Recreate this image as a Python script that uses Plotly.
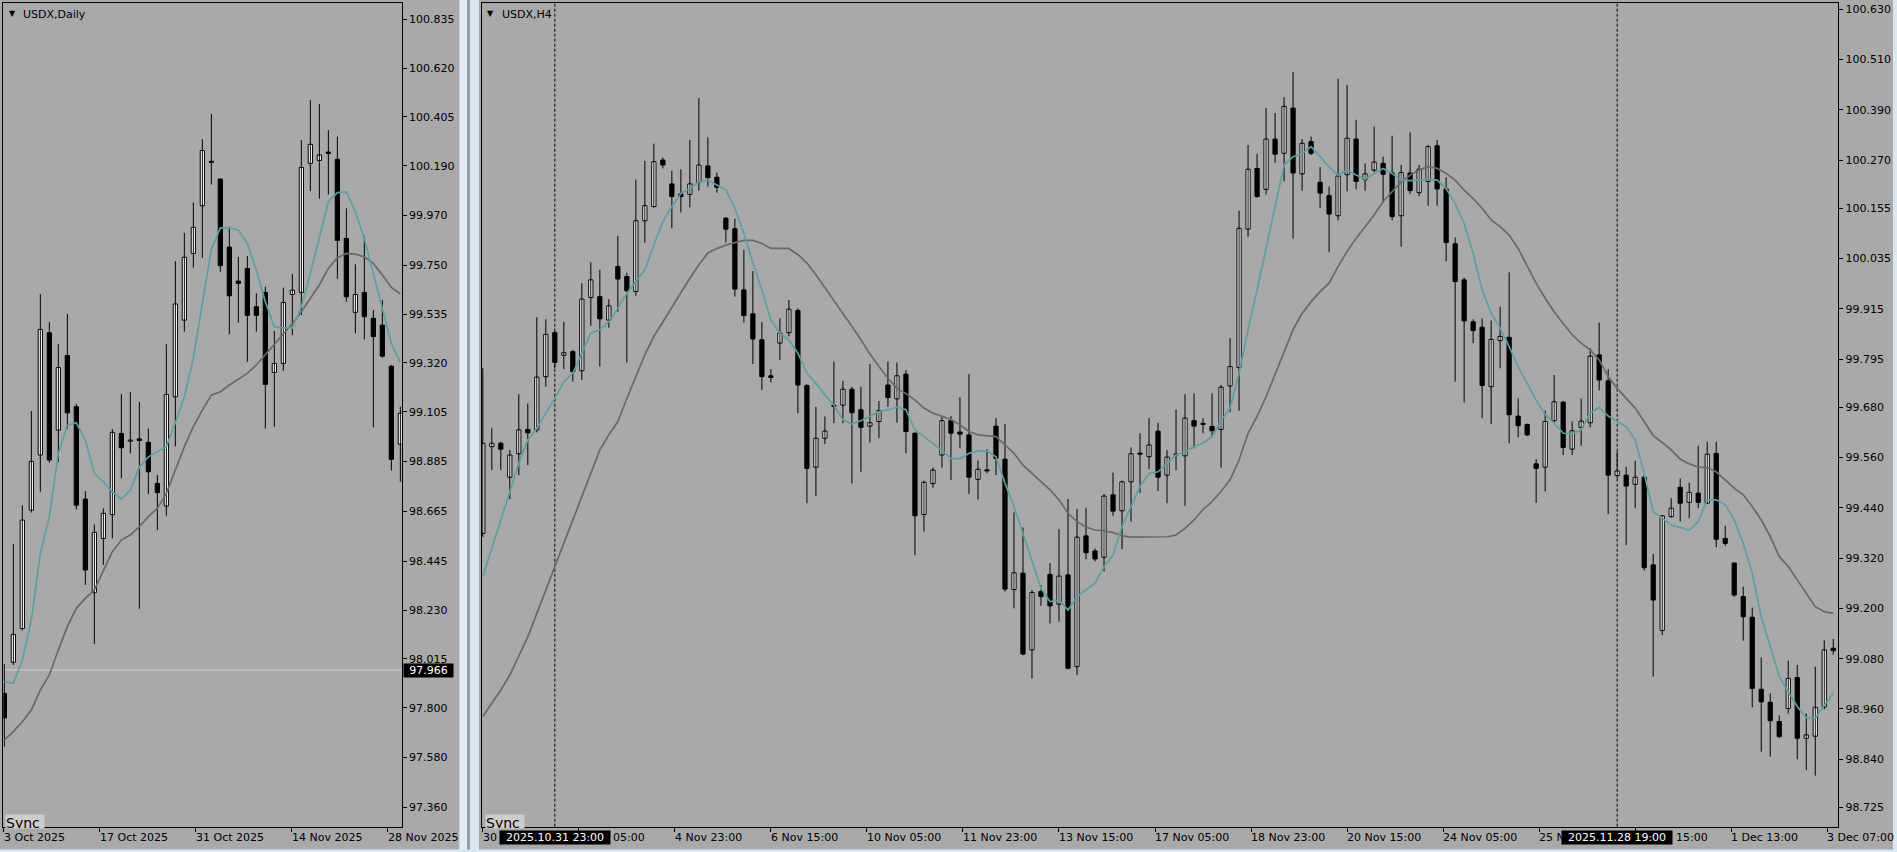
import plotly.graph_objects as go

# ---------------- USDX Daily (left panel) ----------------
d_open = [97.863, 98.000, 98.149, 98.671, 98.914, 99.453, 99.024, 99.353, 99.127, 98.720,
          98.307, 98.546, 98.651, 99.009, 98.975, 98.985, 98.970, 98.789, 98.689, 99.171,
          99.509, 99.803, 100.013, 100.209, 100.131, 99.831, 99.681, 99.736, 99.568, 99.631,
          99.278, 99.318, 99.622, 99.631, 100.200, 100.213, 100.250, 100.218, 99.869, 99.543,
          99.631, 99.517, 99.487, 99.306, 98.962]
d_high = [97.992, 98.521, 98.693, 99.108, 99.624, 99.500, 99.403, 99.536, 99.140, 98.755,
          98.608, 98.679, 99.028, 99.183, 99.192, 99.148, 99.031, 98.826, 99.403, 99.769,
          99.894, 100.027, 100.307, 100.418, 100.134, 99.921, 99.788, 99.791, 99.627, 99.656,
          99.461, 99.652, 99.712, 100.303, 100.479, 100.462, 100.347, 100.318, 100.002, 99.755,
          99.880, 99.553, 99.597, 99.310, 99.127]
d_low = [97.628, 97.988, 98.140, 98.660, 98.752, 98.880, 98.884, 99.030, 98.674, 98.341,
         98.080, 98.429, 98.546, 98.811, 98.921, 98.236, 98.742, 98.583, 98.646, 98.951,
         99.458, 99.740, 99.784, 100.107, 99.722, 99.446, 99.497, 99.325, 99.458, 99.031,
         99.039, 99.286, 99.443, 99.531, 100.078, 100.044, 100.063, 99.691, 99.590, 99.450,
         99.424, 99.036, 99.343, 98.845, 98.796]
d_close = [97.755, 98.123, 98.627, 98.886, 99.468, 98.892, 99.300, 99.100, 98.693, 98.407,
           98.573, 98.657, 99.014, 98.946, 98.980, 98.978, 98.840, 98.748, 99.181, 99.580,
           99.786, 99.918, 100.257, 100.205, 99.749, 99.616, 99.671, 99.530, 99.530, 99.225,
           99.318, 99.587, 99.641, 100.182, 100.284, 100.237, 100.244, 99.860, 99.612, 99.622,
           99.524, 99.436, 99.350, 98.895, 99.098]
d_ma_fast = [97.914, 97.907, 98.010, 98.186, 98.480, 98.642, 98.921, 99.046, 99.056, 98.980,
             98.833, 98.796, 98.752, 98.720, 98.759, 98.862, 98.906, 98.929, 98.951, 99.056,
             99.171, 99.340, 99.583, 99.821, 99.916, 99.916, 99.906, 99.847, 99.730, 99.590,
             99.480, 99.475, 99.475, 99.568, 99.715, 99.877, 100.031, 100.071, 100.074, 99.987,
             99.869, 99.715, 99.561, 99.406, 99.321]
d_ma_slow = [97.657, 97.694, 97.738, 97.789, 97.878, 97.944, 98.054, 98.157, 98.238, 98.282,
             98.319, 98.407, 98.488, 98.539, 98.561, 98.598, 98.642, 98.679, 98.745, 98.848,
             98.951, 99.039, 99.112, 99.178, 99.193, 99.223, 99.248, 99.274, 99.311, 99.355,
             99.399, 99.447, 99.494, 99.546, 99.605, 99.664, 99.737, 99.784, 99.803, 99.800,
             99.788, 99.759, 99.708, 99.653, 99.624]
d_time_labels = ["3 Oct 2025", "17 Oct 2025", "31 Oct 2025", "14 Nov 2025", "28 Nov 2025"]
d_price_ticks = [100.835, 100.620, 100.405, 100.190, 99.970, 99.750, 99.535, 99.320, 99.105,
                 98.885, 98.665, 98.445, 98.230, 98.015, 97.800, 97.580, 97.360]
d_line_price = 97.966

# ---------------- USDX H4 (right panel) ----------------
h_open = [99.379, 99.586, 99.594, 99.513, 99.569, 99.627, 99.626, 99.753, 99.858, 99.804,
          99.813, 99.767, 99.942, 99.944, 99.888, 100.016, 99.992, 99.956, 100.125, 100.159,
          100.270, 100.213, 100.189, 100.188, 100.217, 100.256, 100.229, 100.131, 100.106, 99.960,
          99.903, 99.841, 99.755, 99.833, 99.858, 99.911, 99.732, 99.537, 99.606, 99.684,
          99.685, 99.723, 99.674, 99.635, 99.646, 99.733, 99.700, 99.759, 99.618, 99.424,
          99.498, 99.566, 99.648, 99.621, 99.614, 99.508, 99.530, 99.635, 99.556, 99.245,
          99.284, 99.101, 99.240, 99.281, 99.210, 99.280, 99.061, 99.373, 99.337, 99.322,
          99.471, 99.433, 99.502, 99.570, 99.562, 99.623, 99.518, 99.566, 99.564, 99.648,
          99.641, 99.634, 99.627, 99.731, 99.775, 100.105, 100.250, 100.200, 100.320, 100.286,
          100.394, 100.237, 100.314, 100.217, 100.185, 100.137, 100.235, 100.320, 100.223, 100.246,
          100.262, 100.239, 100.137, 100.239, 100.192, 100.219, 100.304, 100.201, 100.070, 99.984,
          99.884, 99.871, 99.729, 99.839, 99.847, 99.659, 99.639, 99.545, 99.537, 99.648,
          99.692, 99.580, 99.632, 99.643, 99.805, 99.743, 99.517, 99.518, 99.496, 99.513,
          99.304, 99.147, 99.419, 99.489, 99.453, 99.475, 99.451, 99.570, 99.367, 99.308,
          99.228, 99.179, 99.007, 98.976, 98.930, 98.961, 99.035, 98.890, 98.895, 98.965,
          99.105]
h_high = [99.773, 99.630, 99.598, 99.578, 99.711, 99.689, 99.895, 99.890, 99.862, 99.884,
          99.817, 99.976, 100.026, 100.008, 99.938, 100.089, 100.001, 100.223, 100.268, 100.309,
          100.276, 100.244, 100.248, 100.318, 100.418, 100.324, 100.240, 100.134, 100.130, 100.056,
          100.005, 99.883, 99.771, 99.892, 99.936, 99.916, 99.735, 99.681, 99.658, 99.789,
          99.743, 99.729, 99.729, 99.783, 99.695, 99.789, 99.787, 99.769, 99.620, 99.505,
          99.536, 99.659, 99.659, 99.704, 99.759, 99.553, 99.580, 99.654, 99.640, 99.429,
          99.393, 99.244, 99.256, 99.308, 99.389, 99.461, 99.437, 99.440, 99.343, 99.473,
          99.524, 99.505, 99.584, 99.618, 99.654, 99.643, 99.578, 99.674, 99.711, 99.713,
          99.654, 99.713, 99.733, 99.845, 100.149, 100.306, 100.285, 100.394, 100.382, 100.420,
          100.480, 100.320, 100.326, 100.253, 100.207, 100.464, 100.449, 100.366, 100.262, 100.350,
          100.278, 100.328, 100.258, 100.336, 100.258, 100.306, 100.318, 100.229, 100.085, 99.989,
          99.890, 99.892, 99.887, 99.920, 100.002, 99.701, 99.641, 99.556, 99.672, 99.757,
          99.695, 99.646, 99.701, 99.821, 99.882, 99.771, 99.574, 99.538, 99.552, 99.522,
          99.330, 99.423, 99.463, 99.510, 99.500, 99.588, 99.598, 99.598, 99.397, 99.310,
          99.252, 99.202, 99.083, 98.997, 98.945, 99.075, 99.065, 98.949, 99.061, 99.124,
          99.127]
h_low = [99.370, 99.530, 99.530, 99.461, 99.518, 99.542, 99.620, 99.729, 99.773, 99.771,
         99.741, 99.745, 99.874, 99.777, 99.870, 99.908, 99.787, 99.946, 100.073, 100.156,
         100.250, 100.107, 100.145, 100.157, 100.197, 100.207, 100.192, 100.073, 99.944, 99.882,
         99.783, 99.721, 99.739, 99.793, 99.849, 99.666, 99.451, 99.468, 99.592, 99.642,
         99.642, 99.498, 99.526, 99.596, 99.606, 99.681, 99.643, 99.570, 99.327, 99.383,
         99.488, 99.536, 99.506, 99.582, 99.473, 99.460, 99.522, 99.518, 99.240, 99.200,
         99.088, 99.033, 99.206, 99.164, 99.168, 99.055, 99.041, 99.317, 99.312, 99.288,
         99.421, 99.341, 99.407, 99.476, 99.532, 99.480, 99.451, 99.530, 99.445, 99.582,
         99.618, 99.608, 99.536, 99.668, 99.672, 100.087, 100.180, 100.188, 100.264, 100.219,
         100.083, 100.197, 100.282, 100.155, 100.050, 100.126, 100.195, 100.200, 100.197, 100.241,
         100.168, 100.126, 100.063, 100.189, 100.184, 100.161, 100.161, 100.028, 99.741, 99.691,
         99.833, 99.654, 99.640, 99.773, 99.594, 99.608, 99.611, 99.452, 99.479, 99.643,
         99.566, 99.566, 99.588, 99.632, 99.720, 99.425, 99.510, 99.351, 99.439, 99.290,
         99.037, 99.136, 99.417, 99.407, 99.415, 99.439, 99.449, 99.346, 99.349, 99.228,
         99.123, 98.964, 98.858, 98.846, 98.890, 98.949, 98.840, 98.814, 98.801, 98.959,
         99.090]
h_close = [99.594, 99.594, 99.580, 99.566, 99.626, 99.619, 99.752, 99.854, 99.787, 99.810,
           99.765, 99.938, 99.984, 99.891, 99.922, 99.986, 99.958, 100.125, 100.161, 100.266,
           100.258, 100.183, 100.183, 100.213, 100.258, 100.228, 100.205, 100.105, 99.962, 99.899,
           99.843, 99.753, 99.751, 99.857, 99.914, 99.733, 99.534, 99.606, 99.623, 99.682,
           99.723, 99.667, 99.632, 99.643, 99.672, 99.703, 99.755, 99.622, 99.421, 99.501,
           99.530, 99.648, 99.618, 99.616, 99.513, 99.532, 99.528, 99.558, 99.246, 99.285,
           99.091, 99.238, 99.228, 99.206, 99.277, 99.057, 99.370, 99.333, 99.318, 99.468,
           99.432, 99.502, 99.569, 99.568, 99.590, 99.513, 99.561, 99.567, 99.654, 99.635,
           99.639, 99.624, 99.728, 99.777, 100.107, 100.248, 100.183, 100.320, 100.284, 100.398,
           100.239, 100.310, 100.286, 100.191, 100.141, 100.232, 100.322, 100.219, 100.237, 100.265,
           100.236, 100.135, 100.240, 100.197, 100.248, 100.302, 100.201, 100.073, 99.980, 99.886,
           99.863, 99.732, 99.842, 99.849, 99.662, 99.636, 99.614, 99.534, 99.646, 99.693,
           99.584, 99.624, 99.647, 99.802, 99.745, 99.518, 99.528, 99.492, 99.513, 99.297,
           99.220, 99.421, 99.439, 99.451, 99.477, 99.453, 99.568, 99.365, 99.355, 99.232,
           99.180, 99.009, 98.977, 98.932, 98.894, 99.033, 98.890, 98.898, 98.964, 99.101,
           99.099]
h_ma_fast = [99.276, 99.343, 99.411, 99.479, 99.546, 99.602, 99.630, 99.666, 99.701, 99.741,
             99.761, 99.809, 99.857, 99.865, 99.884, 99.916, 99.952, 99.980, 100.008, 100.067,
             100.123, 100.159, 100.190, 100.202, 100.218, 100.222, 100.211, 100.199, 100.155, 100.095,
             100.024, 99.960, 99.888, 99.857, 99.841, 99.809, 99.761, 99.737, 99.709, 99.685,
             99.650, 99.640, 99.648, 99.659, 99.670, 99.674, 99.680, 99.674, 99.626, 99.610,
             99.594, 99.577, 99.558, 99.557, 99.570, 99.576, 99.576, 99.562, 99.499, 99.443,
             99.379, 99.316, 99.248, 99.216, 99.220, 99.196, 99.228, 99.244, 99.260, 99.300,
             99.327, 99.395, 99.443, 99.491, 99.522, 99.526, 99.546, 99.566, 99.574, 99.586,
             99.594, 99.610, 99.648, 99.678, 99.761, 99.865, 99.960, 100.063, 100.159, 100.258,
             100.278, 100.285, 100.302, 100.278, 100.254, 100.234, 100.246, 100.234, 100.224, 100.238,
             100.250, 100.238, 100.222, 100.221, 100.222, 100.224, 100.222, 100.202, 100.166, 100.118,
             100.047, 99.960, 99.904, 99.869, 99.825, 99.777, 99.737, 99.697, 99.662, 99.642,
             99.618, 99.616, 99.626, 99.666, 99.680, 99.659, 99.646, 99.634, 99.602, 99.522,
             99.431, 99.415, 99.399, 99.393, 99.387, 99.407, 99.459, 99.459, 99.447, 99.411,
             99.355, 99.284, 99.180, 99.109, 99.037, 99.001, 98.966, 98.939, 98.938, 98.969,
             98.997]
h_ma_slow = [98.942, 98.973, 99.005, 99.041, 99.085, 99.132, 99.188, 99.244, 99.300, 99.355,
             99.411, 99.467, 99.526, 99.578, 99.614, 99.646, 99.701, 99.753, 99.805, 99.849,
             99.884, 99.920, 99.954, 99.988, 100.020, 100.048, 100.059, 100.067, 100.073, 100.078,
             100.078, 100.071, 100.059, 100.059, 100.059, 100.044, 100.024, 99.996, 99.966, 99.936,
             99.904, 99.873, 99.841, 99.807, 99.777, 99.749, 99.725, 99.713, 99.697, 99.678,
             99.666, 99.659, 99.651, 99.638, 99.622, 99.614, 99.612, 99.610, 99.590, 99.570,
             99.542, 99.522, 99.503, 99.483, 99.459, 99.427, 99.407, 99.394, 99.387, 99.385,
             99.381, 99.373, 99.370, 99.370, 99.371, 99.371, 99.371, 99.375, 99.391, 99.411,
             99.436, 99.455, 99.479, 99.507, 99.554, 99.618, 99.658, 99.705, 99.757, 99.813,
             99.865, 99.904, 99.932, 99.956, 99.976, 100.016, 100.052, 100.083, 100.111, 100.139,
             100.171, 100.195, 100.218, 100.234, 100.246, 100.254, 100.250, 100.238, 100.222, 100.198,
             100.178, 100.155, 100.127, 100.111, 100.091, 100.059, 100.016, 99.976, 99.940, 99.908,
             99.880, 99.853, 99.833, 99.817, 99.793, 99.753, 99.725, 99.701, 99.678, 99.646,
             99.612, 99.596, 99.578, 99.556, 99.545, 99.537, 99.536, 99.526, 99.507, 99.487,
             99.471, 99.443, 99.411, 99.371, 99.324, 99.300, 99.268, 99.236, 99.204, 99.192,
             99.188]
# visible parts of the time labels (the ones partly hidden behind the sync boxes are cut)
h_time_labels = ["30", "05:00", "4 Nov 23:00", "6 Nov 15:00", "10 Nov 05:00",
                 "11 Nov 23:00", "13 Nov 15:00", "17 Nov 05:00", "18 Nov 23:00", "20 Nov 15:00",
                 "24 Nov 05:00", "25 N", "15:00", "1 Dec 13:00", "3 Dec 07:00"]
h_price_ticks = [100.630, 100.510, 100.390, 100.270, 100.155, 100.035, 99.915, 99.795, 99.680,
                 99.560, 99.440, 99.320, 99.200, 99.080, 98.960, 98.840, 98.725]
h_sync_bars = [8, 126]
h_sync_labels = ["2025.10.31 23:00", "2025.11.28 19:00"]

# ---------------- styling / layout ----------------
W, H = 1897, 852
BG = "#A9A9A9"
SPLIT = "#DAE6F2"
FAST = "#5F9EA0"
SLOW = "#696969"
FONT = "DejaVu Sans"
BAR_W = 0.47
PX_PER_BAR = 9.0
LABEL_STEP = 96.0 / PX_PER_BAR   # time label every 96 px
# pixel shift of label text where its beginning is hidden by a sync box
H_LABEL_SHIFT = {1: 34, 12: 41}


def fx(p):
    return p / W


def fy(p):
    return 1 - p / H


fig = go.Figure()


def add_panel(opens, highs, lows, closes, fast, slow, xa, ya, min_body):
    idx = list(range(len(opens)))
    wx, wy = [], []
    for k in idx:
        wx += [k, k, None]
        wy += [lows[k], highs[k], None]
    fig.add_trace(go.Scatter(x=wx, y=wy, mode="lines", line=dict(color="black", width=1),
                             xaxis=xa, yaxis=ya, hoverinfo="skip"))
    base = [min(o, c) for o, c in zip(opens, closes)]
    size = [max(abs(c - o), min_body) for o, c in zip(opens, closes)]
    cols = ["white" if c >= o else "black" for o, c in zip(opens, closes)]
    fig.add_trace(go.Bar(x=idx, y=size, base=base, width=BAR_W,
                         marker=dict(color=cols, line=dict(color="black", width=1)),
                         xaxis=xa, yaxis=ya, hoverinfo="skip"))
    fig.add_trace(go.Scatter(x=idx, y=slow, mode="lines", line=dict(color=SLOW, width=1.7),
                             xaxis=xa, yaxis=ya, hoverinfo="skip"))
    fig.add_trace(go.Scatter(x=idx, y=fast, mode="lines", line=dict(color=FAST, width=1.7),
                             xaxis=xa, yaxis=ya, hoverinfo="skip"))


add_panel(d_open, d_high, d_low, d_close, d_ma_fast, d_ma_slow, "x", "y", 0.004)
add_panel(h_open, h_high, h_low, h_close, h_ma_fast, h_ma_slow, "x2", "y2", 0.0025)

d_tick_pos = [k * LABEL_STEP - 0.04 for k in range(len(d_time_labels))]
h_tick_pos = [k * LABEL_STEP for k in range(len(h_time_labels))]

ax_common = dict(showgrid=False, zeroline=False, showline=True, linecolor="black",
                 linewidth=1, mirror=True, ticks="outside", tickcolor="black",
                 tickwidth=1, fixedrange=True)

fig.update_layout(
    width=W, height=H, autosize=False,
    margin=dict(l=0, r=0, t=0, b=0, pad=0),
    paper_bgcolor=BG, plot_bgcolor=BG,
    showlegend=False, barmode="overlay", hovermode=False,
    font=dict(family=FONT, size=11, color="black"),
    xaxis=dict(domain=[fx(3.3), fx(401.7)], range=[-0.114, 44.15], anchor="y",
               tickvals=d_tick_pos, showticklabels=False, ticklen=4, **ax_common),
    yaxis=dict(domain=[fy(826.7), fy(3.3)], range=[97.275, 100.906], anchor="x", side="right",
               tickvals=d_price_ticks, ticktext=[f"{v:.3f}" for v in d_price_ticks],
               ticklen=4, tickfont=dict(family=FONT, size=11, color="black"), **ax_common),
    xaxis2=dict(domain=[fx(481.5), fx(1838.3)], range=[-0.144, 150.56], anchor="y2",
                tickvals=h_tick_pos, showticklabels=False, ticklen=4, **ax_common),
    yaxis2=dict(domain=[fy(826.7), fy(3.3)], range=[98.679, 100.644], anchor="x2", side="right",
                tickvals=h_price_ticks, ticktext=[f"{v:.3f}" for v in h_price_ticks],
                ticklen=4, tickfont=dict(family=FONT, size=11, color="black"), **ax_common),
)

shapes = [
    dict(type="rect", xref="paper", yref="paper", x0=fx(459.3), x1=fx(467), y0=0, y1=1,
         fillcolor="#E2EBF5", line=dict(width=0), layer="above"),
    dict(type="rect", xref="paper", yref="paper", x0=fx(467), x1=fx(470), y0=0, y1=1,
         fillcolor="#9C9C9C", line=dict(width=0), layer="above"),
    dict(type="rect", xref="paper", yref="paper", x0=fx(470), x1=fx(479), y0=0, y1=1,
         fillcolor=SPLIT, line=dict(width=0), layer="above"),
    dict(type="rect", xref="paper", yref="paper", x0=fx(1893), x1=1, y0=0, y1=1,
         fillcolor=SPLIT, line=dict(width=0), layer="above"),
    dict(type="rect", xref="paper", yref="paper", x0=0, x1=1, y0=0, y1=fy(849.5),
         fillcolor=SPLIT, line=dict(width=0), layer="above"),
    dict(type="line", xref="x domain", yref="y", x0=0, x1=1, y0=d_line_price, y1=d_line_price,
         line=dict(color="#D3D3D3", width=1), layer="below"),
]
for b in h_sync_bars:
    shapes.append(dict(type="line", xref="x2", yref="y2 domain", x0=b, x1=b, y0=0, y1=1,
                       line=dict(color="black", width=1, dash="3px,2px"), layer="below"))
fig.update_layout(shapes=shapes)

ann = []
lab_y = fy(837.7)
for pos, txt in zip(d_tick_pos, d_time_labels):
    ann.append(dict(x=pos, y=lab_y, xref="x", yref="paper", text=txt, showarrow=False,
                    xanchor="left", yanchor="middle", xshift=-1, borderpad=0,
                    font=dict(family=FONT, size=11, color="black")))
for k, (pos, txt) in enumerate(zip(h_tick_pos, h_time_labels)):
    ann.append(dict(x=pos, y=lab_y, xref="x2", yref="paper", text=txt, showarrow=False,
                    xanchor="left", yanchor="middle", xshift=-1 + H_LABEL_SHIFT.get(k, 0),
                    borderpad=0, font=dict(family=FONT, size=11, color="black")))
for b, txt in zip(h_sync_bars, h_sync_labels):
    ann.append(dict(x=b, y=lab_y, xref="x2", yref="paper", text=txt, showarrow=False,
                    xanchor="center", yanchor="middle", bgcolor="black", borderpad=0,
                    width=110, height=13,
                    font=dict(family=FONT, size=11, color="white")))
# last price label
ann.append(dict(x=fx(402.7), y=d_line_price, xref="paper", yref="y", text=f"{d_line_price:.3f}",
                showarrow=False, xanchor="left", yanchor="middle", bgcolor="black",
                borderpad=0, width=49, height=13,
                font=dict(family=FONT, size=11, color="white")))
# titles
for tx, sym in ((22, "USDX,Daily"), (501, "USDX,H4")):
    ann.append(dict(x=fx(tx), y=fy(14), xref="paper", yref="paper", text=sym, showarrow=False,
                    xanchor="left", yanchor="middle", borderpad=0,
                    font=dict(family=FONT, size=11, color="black")))
for tx in (12, 490.5):
    ann.append(dict(x=fx(tx), y=fy(13), xref="paper", yref="paper", text="▼", showarrow=False,
                    xanchor="center", yanchor="middle", borderpad=0,
                    font=dict(family=FONT, size=8, color="black")))
# Sync buttons
for tx in (4.7, 484.7):
    ann.append(dict(x=fx(tx), y=fy(813.5), xref="paper", yref="paper", text="Sync",
                    showarrow=False, xanchor="left", yanchor="top", bgcolor="#CDCDCD",
                    borderpad=0, width=38, height=13, align="left", valign="top",
                    font=dict(family=FONT, size=14, color="black")))
fig.update_layout(annotations=ann)

fig.write_html("out.html",
               config={"displayModeBar": False, "staticPlot": True},
               post_script="document.body.style.margin='0px';document.body.style.overflow='hidden';")
